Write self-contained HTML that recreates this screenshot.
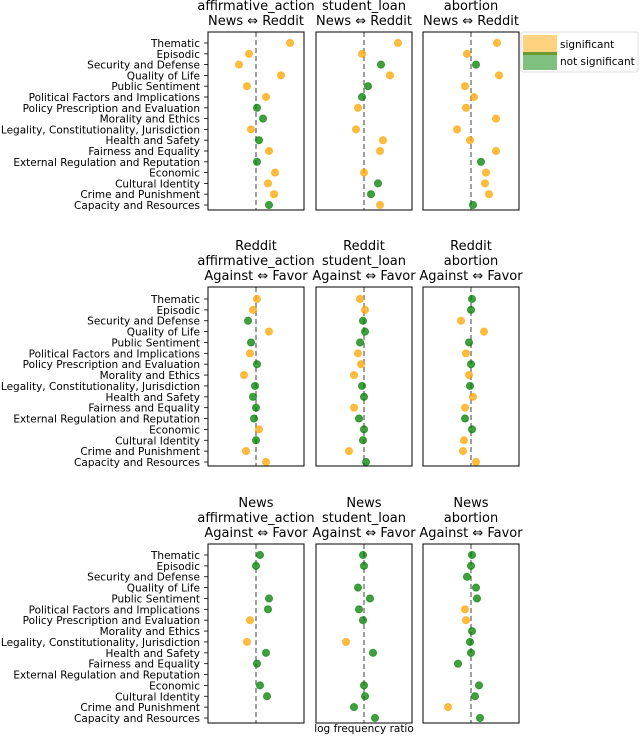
<!DOCTYPE html>
<html><head><meta charset="utf-8"><style>
body{margin:0;background:#fff;font-family:"Liberation Sans","DejaVu Sans",sans-serif}
svg text{font-family:"DejaVu Sans","Liberation Sans",sans-serif}
</style></head><body>
<svg id="chart" width="640" height="735" xmlns="http://www.w3.org/2000/svg"></svg>
<script>
const categories=["Thematic","Episodic","Security and Defense","Quality of Life","Public Sentiment","Political Factors and Implications","Policy Prescription and Evaluation","Morality and Ethics","Legality, Constitutionality, Jurisdiction","Health and Safety","Fairness and Equality","External Regulation and Reputation","Economic","Cultural Identity","Crime and Punishment","Capacity and Resources"];
const topics=["affirmative_action","student_loan","abortion"];
const rowTitles=[null,"Reddit","News"];
const rowSubtitles=["News \u21d4 Reddit","Against \u21d4 Favor","Against \u21d4 Favor"];
// values: log frequency ratio (arbitrary units), null = missing
const r1aa=[34,-7,-17,25,-9,10,1,7,-5,3,13,1,19,12,18,13];
const r1aaSig=[1,1,1,1,1,1,0,0,1,0,1,0,1,1,1,0];
const r1sl=[34,-2,17,26,4,-2,-6,null,-8,19,16,null,0,14,7,16];
const r1slSig=[1,1,0,1,0,0,1,0,1,1,1,0,1,0,0,1];
const r1ab=[26,-4,5,28,-6,3,-5,25,-14,-1,25,10,15,14,18,2];
const r1abSig=[1,1,0,1,1,1,1,1,1,1,1,0,1,1,1,0];
const r2aa=[1,-3,-8,13,-5,-6,1,-12,-1,-3,0,-2,3,0,-10,10];
const r2aaSig=[1,1,0,1,0,1,0,1,0,0,0,0,1,0,1,1];
const r2sl=[-4,1,-1,1,-4,-6,-3,-10,-2,0,-10,-5,0,-1,-15,2];
const r2slSig=[1,1,0,0,0,1,1,1,0,0,1,0,0,0,1,0];
const r2ab=[1,0,-10,13,-2,-5,0,-2,-1,2,-6,-6,1,-7,-8,5];
const r2abSig=[0,0,1,1,0,1,0,1,0,1,1,0,0,1,1,1];
const r3aa=[4,0,null,null,13,12,-6,null,-9,10,1,null,4,11,null,null];
const r3aaSig=[0,0,0,0,0,0,1,0,1,0,0,0,0,0,0,0];
const r3sl=[-1,0,null,-6,6,-5,-1,null,-18,9,null,null,0,1,-10,11];
const r3slSig=[0,0,0,0,0,0,0,0,1,0,0,0,0,0,0,0];
const r3ab=[1,0,-4,5,6,-6,-5,1,-1,0,-13,null,8,4,-23,9];
const r3abSig=[0,0,0,0,0,1,1,0,0,0,0,0,0,0,1,0];

const svg=document.getElementById('chart');
const NS='http://www.w3.org/2000/svg';
function mk(tag,attrs,parent){const e=document.createElementNS(NS,tag);for(const k in attrs)e.setAttribute(k,attrs[k]);(parent||svg).appendChild(e);return e;}
const panelX=[208,316,423], panelW=96;
const rowsG=[{top:32,bot:210,y0:43,y1:205},{top:287,bot:466,y0:299,y1:462},{top:544,bot:723,y0:555,y1:718}];
const data=[[r1aa,r1sl,r1ab],[r2aa,r2sl,r2ab],[r3aa,r3sl,r3ab]];
const sig=[[r1aaSig,r1slSig,r1abSig],[r2aaSig,r2slSig,r2abSig],[r3aaSig,r3slSig,r3abSig]];
const xScale=(p,v)=>panelX[p]+panelW/2+v*1.0;
const yScale=(r,i)=>rowsG[r].y0+i*(rowsG[r].y1-rowsG[r].y0)/(categories.length-1);

rowsG.forEach((rg,r)=>{
  categories.forEach((c,i)=>{
    const y=yScale(r,i);
    const t=mk('text',{x:200,y:y+4,'text-anchor':'end','font-size':10.5,fill:'#000'});
    t.textContent=c;
    
    
    mk('line',{x1:204,x2:208,y1:y,y2:y,stroke:'#000','stroke-width':0.8});
  });
  for(let p=0;p<3;p++){
    const g=mk('g',{});
    
    
    const cx=panelX[p]+panelW/2;
    let ty=rg.top-7;
    const lines=[topics[p],rowSubtitles[r]];
    if(rowTitles[r])lines.unshift(rowTitles[r]);
    for(let k=lines.length-1;k>=0;k--){
      const t=mk('text',{x:cx,y:ty,'text-anchor':'middle','font-size':13,fill:'#000'},g);
      t.textContent=lines[k];
      
      
      ty-=15;
    }
    mk('line',{x1:cx,x2:cx,y1:rg.top,y2:rg.bot,stroke:'#888','stroke-width':1.6,'stroke-dasharray':'5,3'},g);
    data[r][p].forEach((v,i)=>{
      if(v===null)return;
      const s=sig[r][p][i];
      const col=s?'#ffa500':'#008000';
      const c=mk('circle',{cx:xScale(p,v),cy:yScale(r,i),r:3.6,fill:col,'fill-opacity':0.75,stroke:col,'stroke-opacity':0.6,'stroke-width':1},g);
      
      
    });
    mk('rect',{x:panelX[p],y:rg.top,width:panelW,height:rg.bot-rg.top,fill:'none',stroke:'#000','stroke-width':1},g);
  }
});
const xl=mk('text',{x:364,y:732,'text-anchor':'middle','font-size':10.5,fill:'#000'});
xl.textContent='log frequency ratio';


const lg=mk('g',{});


mk('rect',{x:521,y:32,width:117,height:40,fill:'#fff',stroke:'#ddd','stroke-width':1,rx:2},lg);
mk('rect',{x:523,y:35,width:34,height:17,fill:'#ffa500','fill-opacity':0.5},lg);
mk('rect',{x:523,y:52,width:34,height:18,fill:'#008000','fill-opacity':0.5},lg);
mk('rect',{x:523,y:52,width:34,height:3,fill:'#6a9a30'},lg);
const l1=mk('text',{x:560,y:48,'font-size':10.5,fill:'#000'},lg);l1.textContent='significant';


const l2=mk('text',{x:560,y:65,'font-size':10.5,fill:'#000'},lg);l2.textContent='not significant';


</script>
</body></html>
